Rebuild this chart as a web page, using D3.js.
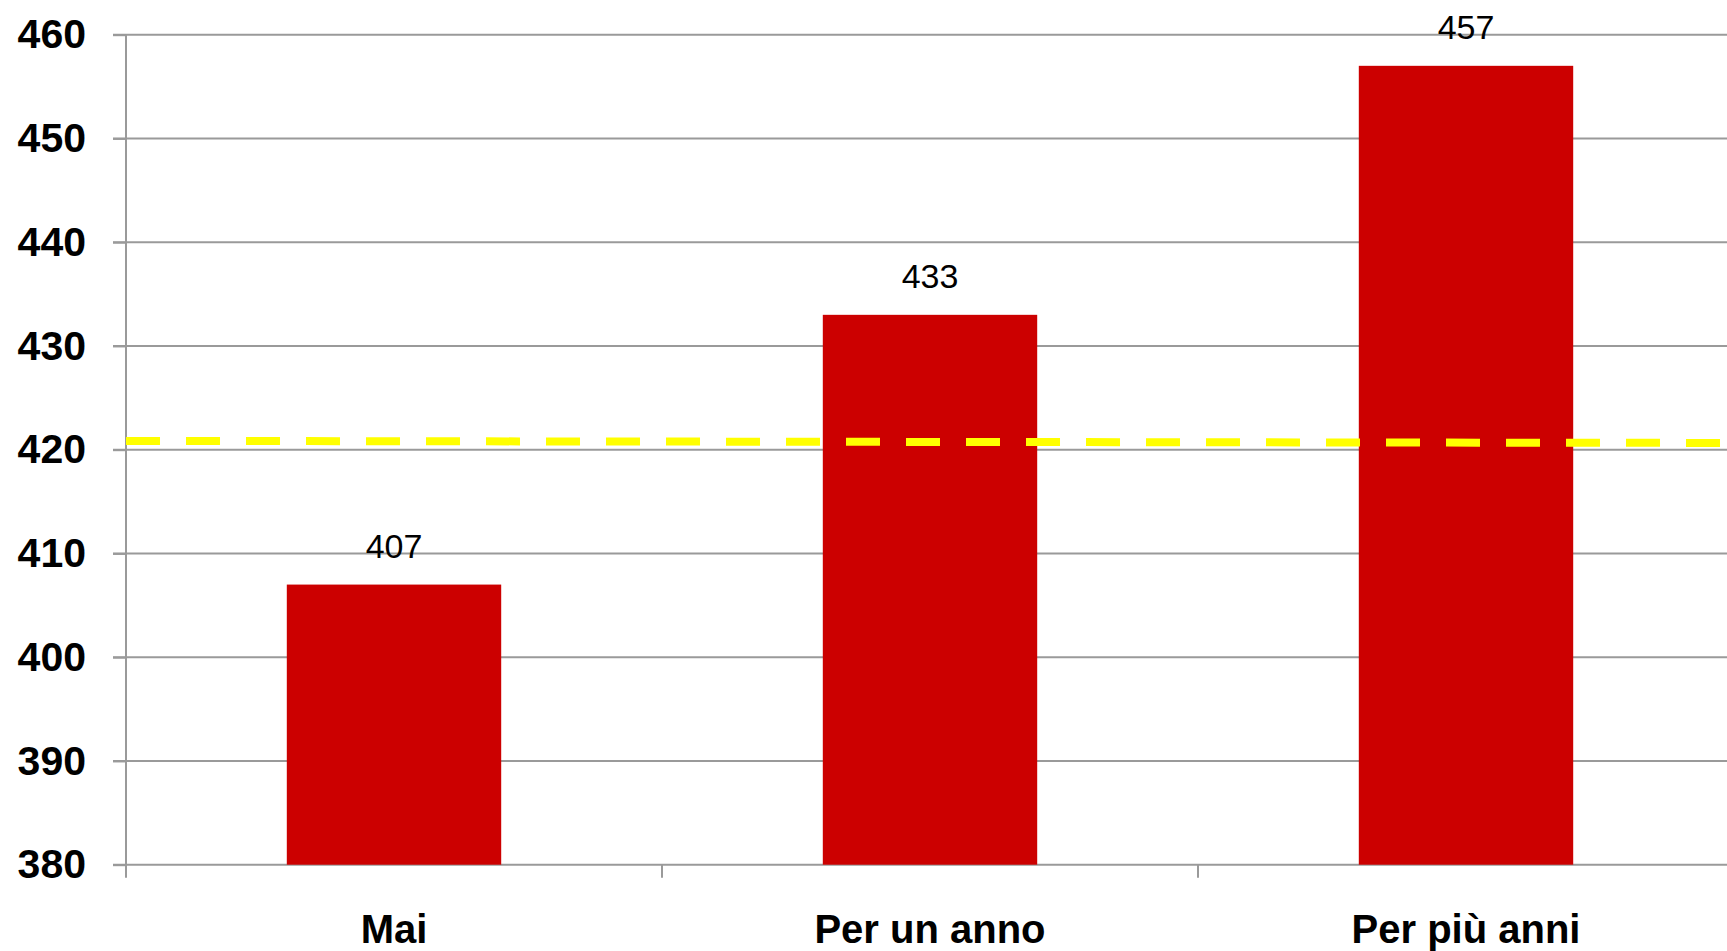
<!DOCTYPE html>
<html>
<head>
<meta charset="utf-8">
<script src="https://cdn.jsdelivr.net/npm/d3@7"></script>
<style>
  html, body { margin: 0; padding: 0; background: #fff; overflow: hidden; }
  svg { display: block; }
</style>
</head>
<body>
<svg id="chart" width="1727" height="951"></svg>
<script>
// Categories and scores
const categories = ["Mai", "Per un anno", "Per più anni"];
const scores = [407, 433, 457];
// Average reference line (value at start and end of the plot)
const averageLine = [420.85, 420.65];
// Y axis tick values
const yTicks = [380, 390, 400, 410, 420, 430, 440, 450, 460];

const svg = d3.select("#chart");
const plotLeft = 126, plotRight = 1734, plotTop = 34.7, plotBottom = 864.7;

const x = d3.scaleBand()
  .domain(categories)
  .range([plotLeft, plotRight])
  .paddingInner(0.6)
  .paddingOuter(0.3);

const y = d3.scaleLinear()
  .domain([380, 460])
  .range([plotBottom, plotTop]);

// Horizontal gridlines
svg.append("g")
  .selectAll("line")
  .data(yTicks)
  .join("line")
  .attr("x1", plotLeft - 13)
  .attr("x2", plotRight)
  .attr("y1", d => y(d))
  .attr("y2", d => y(d))
  .attr("stroke", "#9a9a9a")
  .attr("stroke-width", 2);

// Y axis with labels
const yAxis = svg.append("g")
  .attr("transform", `translate(${plotLeft},0)`)
  .call(d3.axisLeft(y).tickValues(yTicks).tickSizeInner(13).tickSizeOuter(0).tickPadding(27));
yAxis.select(".domain").remove();
yAxis.selectAll(".tick line").attr("stroke", "#9a9a9a").attr("stroke-width", 2);
yAxis.selectAll(".tick text")
  .attr("font-family", "'Liberation Sans', Arial, sans-serif")
  .attr("font-weight", "bold")
  .attr("font-size", 41)
  .attr("fill", "#000");

// Vertical axis line
svg.append("line")
  .attr("x1", plotLeft).attr("x2", plotLeft)
  .attr("y1", y(460)).attr("y2", y(380) + 13)
  .attr("stroke", "#9a9a9a").attr("stroke-width", 2);

// Category separators on the x axis (band boundaries)
const gap = (x.step() - x.bandwidth()) / 2;
svg.append("g")
  .selectAll("line")
  .data(categories.slice(1))
  .join("line")
  .attr("x1", d => x(d) - gap)
  .attr("x2", d => x(d) - gap)
  .attr("y1", y(380))
  .attr("y2", y(380) + 13)
  .attr("stroke", "#9a9a9a").attr("stroke-width", 2);

// Bars
svg.append("g")
  .selectAll("rect")
  .data(categories)
  .join("rect")
  .attr("x", d => x(d))
  .attr("width", x.bandwidth())
  .attr("y", (d, i) => y(scores[i]))
  .attr("height", (d, i) => y(380) - y(scores[i]))
  .attr("fill", "#cc0000");

// Value labels
svg.append("g")
  .selectAll("text")
  .data(categories)
  .join("text")
  .attr("x", d => x(d) + x.bandwidth() / 2)
  .attr("y", (d, i) => y(scores[i]) - 27)
  .attr("text-anchor", "middle")
  .attr("font-family", "'Liberation Sans', Arial, sans-serif")
  .attr("font-size", 34)
  .attr("fill", "#000")
  .text((d, i) => d3.format("d")(scores[i]));

// Category labels
svg.append("g")
  .selectAll("text")
  .data(categories)
  .join("text")
  .attr("x", d => x(d) + x.bandwidth() / 2)
  .attr("y", 943)
  .attr("text-anchor", "middle")
  .attr("font-family", "'Liberation Sans', Arial, sans-serif")
  .attr("font-weight", "bold")
  .attr("font-size", 40)
  .attr("fill", "#000")
  .text(d => d);

// Dashed average line
const xLine = d3.scaleLinear().domain([0, averageLine.length - 1]).range([plotLeft, plotRight]);
svg.append("path")
  .datum(averageLine)
  .attr("d", d3.line().x((d, i) => xLine(i)).y(d => y(d)))
  .attr("fill", "none")
  .attr("stroke", "#ffff00")
  .attr("stroke-width", 8)
  .attr("stroke-dasharray", "34 26");
</script>
</body>
</html>
